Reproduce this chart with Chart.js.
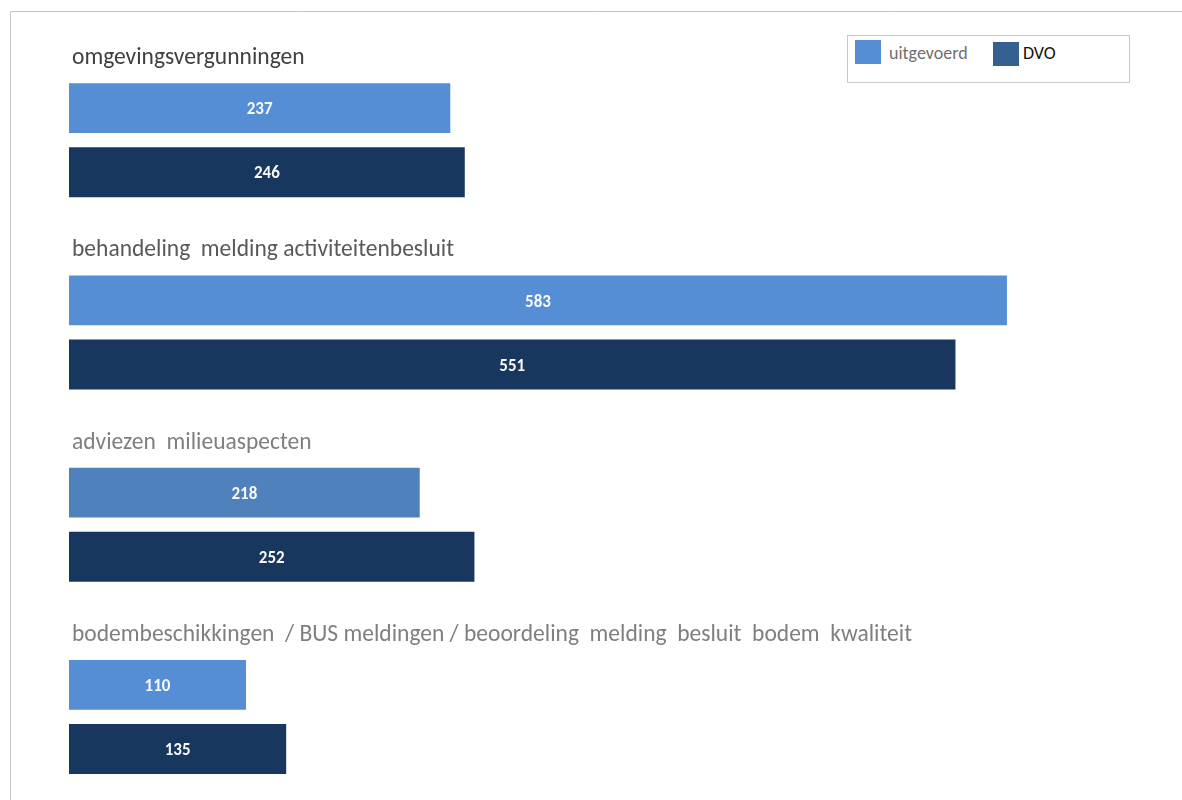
<!DOCTYPE html>
<html>
<head>
<meta charset="utf-8">
<script src="https://cdn.jsdelivr.net/npm/chart.js@4/dist/chart.umd.min.js"></script>
<style>
  html, body { margin: 0; padding: 0; background: #ffffff; }
  #wrap { position: relative; width: 1182px; height: 800px; overflow: hidden; }
  #c { position: absolute; left: 0; top: 0; }
  #legend { position: absolute; left: 847px; top: 35px; width: 283px; height: 48px; border: 1px solid #c8c8c8; box-sizing: border-box; background: #fff; font-family: Carlito, Lato, sans-serif; font-size: 18px; }
  .item { position: absolute; height: 24px; line-height: 24px; white-space: nowrap; }
  .sw { display: inline-block; width: 26px; height: 24px; vertical-align: top; margin-right: 8px; }
</style>
</head>
<body>
<div id="wrap">
  <canvas id="c" width="1182" height="800"></canvas>
  <div id="legend"></div>
</div>
<script>
const categories = [
  "omgevingsvergunningen",
  "behandeling  melding activiteitenbesluit",
  "adviezen  milieuaspecten",
  "bodembeschikkingen  / BUS meldingen / beoordeling  melding  besluit  bodem  kwaliteit"
];
const seriesNames = ["uitgevoerd", "DVO"];
const uitgevoerd = [237, 583, 218, 110];
const dvo = [246, 551, 252, 135];
const spacer = [0, 0, 0, 0];

const uitgevoerdColors = ["#558ED5", "#558ED5", "#4F81BD", "#558ED5"];
const dvoColor = "#17375E";
const legendColors = ["#558ED5", "#366092"];
const legendTextColors = ["#6f6f6f", "#111111"];
const titleColors = ["#404040", "#595959", "#7F7F7F", "#7F7F7F"];

const FONT = "Carlito, Lato, sans-serif";

// HTML legend
const lg = document.getElementById('legend');
const legendX = [7, 145];
const legendY = [4, 6];
seriesNames.forEach((n, i) => {
  const d = document.createElement('div');
  d.className = 'item';
  d.style.left = legendX[i] + 'px';
  d.style.top = legendY[i] + 'px';
  d.style.color = legendTextColors[i];
  const s = document.createElement('span');
  s.className = 'sw';
  s.style.background = legendColors[i];
  if (i === 1) s.style.marginRight = '4px';
  d.appendChild(s);
  const t = document.createElement('span');
  t.textContent = n;
  t.style.position = 'relative';
  t.style.top = (i === 0 ? '1px' : '-1px');
  d.appendChild(t);
  lg.appendChild(d);
});

const framePlugin = {
  id: 'frame',
  beforeDraw(chart) {
    const ctx = chart.ctx;
    ctx.save();
    ctx.strokeStyle = '#c4c4c4';
    ctx.lineWidth = 1;
    ctx.beginPath();
    ctx.moveTo(10.5, 800);
    ctx.lineTo(10.5, 11.5);
    ctx.lineTo(1182, 11.5);
    ctx.stroke();
    ctx.restore();
  }
};

const labelPlugin = {
  id: 'labels',
  afterDatasetsDraw(chart) {
    const ctx = chart.ctx;
    ctx.save();
    // category titles above each group
    const m1 = chart.getDatasetMeta(1);
    ctx.font = '23.5px ' + FONT;
    ctx.textAlign = 'left';
    ctx.textBaseline = 'alphabetic';
    m1.data.forEach((el, i) => {
      const top = el.y - el.height / 2;
      ctx.fillStyle = titleColors[i];
      ctx.fillText(categories[i], chart.chartArea.left + 3, top - 19);
    });
    // value labels inside the bars
    ctx.font = 'bold 17px ' + FONT;
    ctx.textAlign = 'center';
    ctx.textBaseline = 'middle';
    ctx.fillStyle = '#f8f8f8';
    [1, 2].forEach(di => {
      const meta = chart.getDatasetMeta(di);
      const ds = chart.data.datasets[di];
      meta.data.forEach((el, i) => {
        ctx.fillText(String(ds.data[i]), (el.base + el.x) / 2, el.y + 2);
      });
    });
    ctx.restore();
  }
};

new Chart(document.getElementById('c'), {
  type: 'bar',
  data: {
    labels: categories,
    datasets: [
      { label: '', data: spacer, backgroundColor: 'rgba(0,0,0,0)', borderWidth: 0 },
      { label: seriesNames[0], data: uitgevoerd, backgroundColor: uitgevoerdColors, borderWidth: 0 },
      { label: seriesNames[1], data: dvo, backgroundColor: dvoColor, borderWidth: 0 }
    ]
  },
  options: {
    indexAxis: 'y',
    responsive: false,
    animation: false,
    devicePixelRatio: 1,
    layout: { padding: { left: 69, right: 19, top: 12, bottom: 19 } },
    datasets: { bar: { categoryPercentage: 1.0, barPercentage: 0.78 } },
    scales: {
      x: { display: false, min: 0, max: 680, grid: { display: false } },
      y: { display: false, grid: { display: false } }
    },
    plugins: {
      legend: { display: false },
      tooltip: { enabled: false },
      title: { display: false }
    }
  },
  plugins: [framePlugin, labelPlugin]
});
</script>
</body>
</html>
